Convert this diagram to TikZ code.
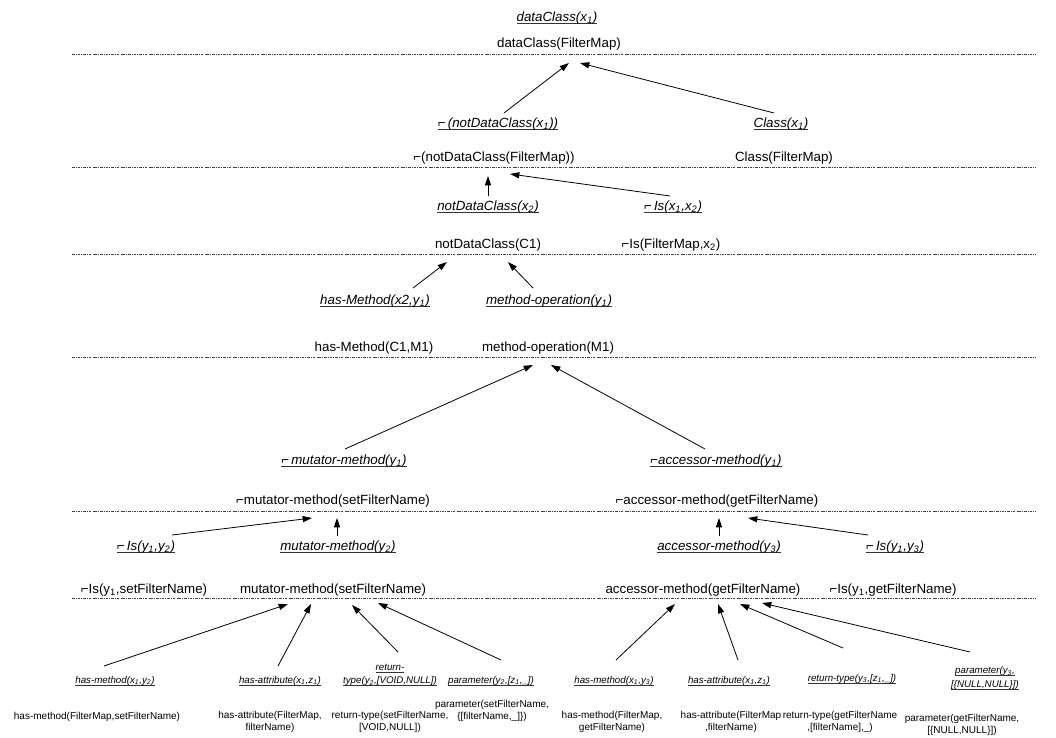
\documentclass[tikz,border=0pt]{standalone}
\usepackage{fontspec}
\setmainfont{Liberation Sans}
\usetikzlibrary{arrows.meta,calc}
% negation sign, subscripts and a baseline underline for the pattern labels
\newcommand\negs{\char"2310\relax}
\newcommand\sbs[1]{\textsubscript{#1}}
\newcommand\undl[1]{\setbox0\hbox{#1}\rlap{\color{black!80}\rule[-1.7pt]{\wd0}{0.45pt}}\box0}
\tikzset{
  lbl/.style={font=\fontsize{10}{12}\selectfont, inner sep=1pt},
  pat/.style={font=\fontsize{10}{12}\selectfont\itshape, inner sep=1pt},
  spat/.style={font=\fontsize{7.3}{10}\selectfont\itshape, inner sep=1pt, align=center},
  slbl/.style={font=\fontsize{7.5}{8.6}\selectfont, inner sep=1pt, align=center},
  arr/.style={-{Triangle[length=7pt,width=4.6pt]}, line width=0.6pt},
  sepline/.style={line width=0.5pt, black!75, dash pattern=on 2pt off 0.8pt on 0.6pt off 0.8pt}
}
\begin{document}
\begin{tikzpicture}[x=0.75pt,y=-0.75pt]
\useasboundingbox (0,0) rectangle (1056,738);

% level separators
\foreach \yy in {54,167,254,357,511,598}
  \draw[sepline] (72,\yy) -- (1036,\yy);

% level 1
\node[pat] (t0) at (557,18) {\undl{dataClass(x\sbs1)}};
\node[lbl] (t1) at (559,44) {dataClass(FilterMap)};
% level 2
\node[pat] (a1) at (498,124) {\undl{\negs\,(notDataClass(x\sbs1))}};
\node[pat] (a2) at (781,124) {\undl{Class(x\sbs1)}};
\node[lbl] (b1) at (494,158) {\negs(notDataClass(FilterMap))};
\node[lbl] (b2) at (784,158) {Class(FilterMap)};
% level 3
\node[pat] (c1) at (488,207) {\undl{notDataClass(x\sbs2)}};
\node[pat] (c2) at (673,207) {\undl{\negs\,Is(x\sbs1,x\sbs2)}};
\node[lbl] (d1) at (488,245) {notDataClass(C1)};
\node[lbl] (d2) at (671,245) {\negs Is(FilterMap,x\sbs2)};
% level 4
\node[pat] (e1) at (375,301) {\undl{has-Method(x2,y\sbs1)}};
\node[pat] (e2) at (549,301) {\undl{method-operation(y\sbs1)}};
\node[lbl] (f1) at (374,348) {has-Method(C1,M1)};
\node[lbl] (f2) at (548,348) {method-operation(M1)};
% level 5
\node[pat] (g1) at (344,461) {\undl{\negs\,mutator-method(y\sbs1)}};
\node[pat] (g2) at (716,461) {\undl{\negs accessor-method(y\sbs1)}};
\node[lbl] (h1) at (333,501) {\negs mutator-method(setFilterName)};
\node[lbl] (h2) at (717,501) {\negs accessor-method(getFilterName)};
% level 6
\node[pat] (i1) at (146,547) {\undl{\negs\,Is(y\sbs1,y\sbs2)}};
\node[pat] (i2) at (338,547) {\undl{mutator-method(y\sbs2)}};
\node[pat] (i3) at (719,547) {\undl{accessor-method(y\sbs3)}};
\node[pat] (i4) at (895,547) {\undl{\negs\,Is(y\sbs1,y\sbs3)}};
\node[lbl] (j1) at (144,590) {\negs Is(y\sbs1,setFilterName)};
\node[lbl] (j2) at (333,590) {mutator-method(setFilterName)};
\node[lbl] (j3) at (703,590) {accessor-method(getFilterName)};
\node[lbl] (j4) at (893,590) {\negs Is(y\sbs1,getFilterName)};
% level 7: patterns
\node[spat] (k1) at (115,681) {\undl{has-method(x\sbs1,y\sbs2)}};
\node[spat] (k2) at (280,681) {\undl{has-attribute(x\sbs1,z\sbs1)}};
\node[spat] (k3) at (390,675) {\undl{return-}\\\undl{type(y\sbs2,[VOID,NULL])}};
\node[spat] (k4) at (491,681) {\undl{parameter(y\sbs2,[z\sbs1,\_])}};
\node[spat] (k5) at (614,681) {\undl{has-method(x\sbs1,y\sbs3)}};
\node[spat] (k6) at (729,681) {\undl{has-attribute(x\sbs1,z\sbs1)}};
\node[spat] (k7) at (852,679) {\undl{return-type(y\sbs3,[z\sbs1,\_])}};
\node[spat] (k8) at (985,678) {\undl{parameter(y\sbs3,}\\\undl{[\{NULL,NULL\}])}};
% level 7: facts
\node[slbl] (m1) at (97,717) {has-method(FilterMap,setFilterName)};
\node[slbl] (m2) at (270,722) {has-attribute(FilterMap,\\filterName)};
\node[slbl] (m3) at (390,722) {return-type(setFilterName,\\{}[VOID,NULL])};
\node[slbl] (m4) at (492,711) {parameter(setFilterName,\\\{[filterName,\_]\})};
\node[slbl] (m5) at (612,722) {has-method(FilterMap,\\getFilterName)};
\node[slbl] (m6) at (731,722) {has-attribute(FilterMap\\,filterName)};
\node[slbl] (m7) at (840,722) {return-type(getFilterName\\,[filterName],\_)};
\node[slbl] (m8) at (962,725) {parameter(getFilterName,\\{}[\{NULL,NULL\}])};

% derivation arrows
\draw[arr] ([shift={(6,-11)}]a1.center) -- ([shift={(10,19)}]t1.center);
\draw[arr] ([shift={(-7,-11)}]a2.center) -- ([shift={(21,19)}]t1.center);
\draw[arr] ([shift={(0,-11)}]c1.center) -- ([shift={(-6,18)}]b1.center);
\draw[arr] ([shift={(-3,-11)}]c2.center) -- ([shift={(16,16)}]b1.center);
\draw[arr] ([shift={(38,-13)}]e1.center) -- ([shift={(-41,17)}]d1.center);
\draw[arr] ([shift={(-16,-13)}]e2.center) -- ([shift={(20,17)}]d1.center);
\draw[arr] ([shift={(1,-12)}]g1.center) -- ([shift={(-15,17)}]f2.center);
\draw[arr] ([shift={(-11,-12)}]g2.center) -- ([shift={(3,17)}]f2.center);
\draw[arr] ([shift={(26,-12)}]i1.center) -- ([shift={(-21,17)}]h1.center);
\draw[arr] ([shift={(-1,-11)}]i2.center) -- ([shift={(4,17)}]h1.center);
\draw[arr] ([shift={(0,-11)}]i3.center) -- ([shift={(2,17)}]h2.center);
\draw[arr] ([shift={(-27,-12)}]i4.center) -- ([shift={(31,17)}]h2.center);
\draw[arr] ([shift={(-11,-15)}]k1.center) -- ([shift={(-45,14)}]j2.center);
\draw[arr] ([shift={(-2,-15)}]k2.center) -- ([shift={(-22,14)}]j2.center);
\draw[arr] ([shift={(8,-23)}]k3.center) -- ([shift={(19,15)}]j2.center);
\draw[arr] ([shift={(10,-21)}]k4.center) -- ([shift={(45,13)}]j2.center);
\draw[arr] ([shift={(2,-21)}]k5.center) -- ([shift={(-28,14)}]j3.center);
\draw[arr] ([shift={(9,-21)}]k6.center) -- ([shift={(15,14)}]j3.center);
\draw[arr] ([shift={(-9,-31)}]k7.center) -- ([shift={(37,14)}]j3.center);
\draw[arr] ([shift={(-15,-26)}]k8.center) -- ([shift={(59,13)}]j3.center);
\end{tikzpicture}
\end{document}
